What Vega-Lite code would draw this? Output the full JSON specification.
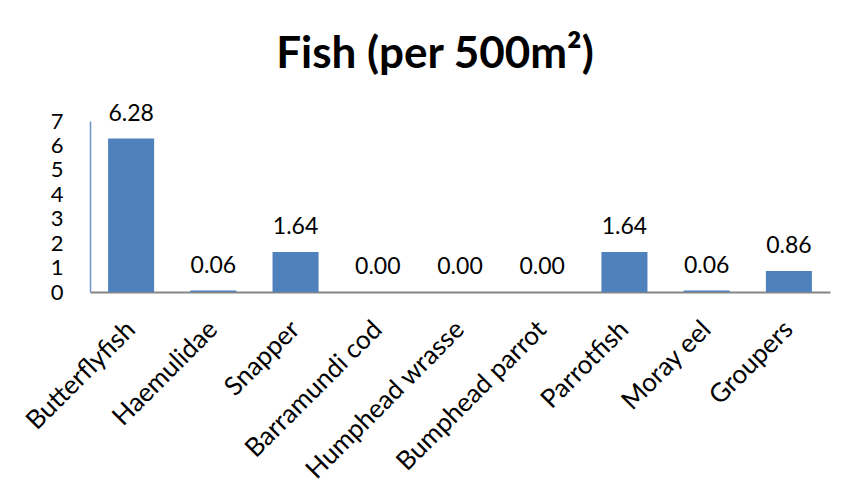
{
  "$schema": "https://vega.github.io/schema/vega-lite/v6.json",
  "width": 740,
  "height": 171,
  "autosize": "none",
  "padding": {"left": 90, "top": 121, "right": 21, "bottom": 195},
  "background": "white",
  "title": {
    "text": "Fish (per 500m²)",
    "font": "Lato",
    "fontSize": 44,
    "fontWeight": "bold",
    "color": "black",
    "anchor": "middle",
    "dx": -25,
    "offset": 26
  },
  "data": {
    "values": [
      {"fish": "Butterflyfish", "value": 6.28},
      {"fish": "Haemulidae", "value": 0.06},
      {"fish": "Snapper", "value": 1.64},
      {"fish": "Barramundi cod", "value": 0.0},
      {"fish": "Humphead wrasse", "value": 0.0},
      {"fish": "Bumphead parrot", "value": 0.0},
      {"fish": "Parrotfish", "value": 1.64},
      {"fish": "Moray eel", "value": 0.06},
      {"fish": "Groupers", "value": 0.86}
    ]
  },
  "encoding": {
    "x": {
      "field": "fish",
      "type": "nominal",
      "sort": null,
      "scale": {"paddingInner": 0.44, "paddingOuter": 0.22},
      "axis": {
        "title": null,
        "labelAngle": -45,
        "labelAlign": "right",
        "labelBaseline": "middle",
        "labelFont": "Lato",
        "labelFontSize": 26,
        "labelColor": "black",
        "labelPadding": 33,
        "labelLimit": 400,
        "ticks": false,
        "domainColor": "#868686",
        "domainWidth": 2,
        "labelOverlap": false
      }
    },
    "y": {
      "field": "value",
      "type": "quantitative",
      "scale": {"domain": [0, 7], "nice": false},
      "axis": {
        "title": null,
        "values": [0, 1, 2, 3, 4, 5, 6, 7],
        "grid": false,
        "ticks": false,
        "labelFont": "Lato",
        "labelFontSize": 22,
        "labelColor": "black",
        "labelPadding": 27,
        "labelOverlap": false,
        "labelFlush": false,
        "domainColor": "#6F93C8",
        "domainWidth": 1.5
      }
    }
  },
  "layer": [
    {"mark": {"type": "bar", "color": "#4F81BD"}},
    {
      "mark": {"type": "text", "font": "Lato", "fontSize": 23, "color": "black", "baseline": "bottom", "dy": -13},
      "encoding": {"text": {"field": "value", "type": "quantitative", "format": ".2f"}}
    }
  ],
  "config": {"view": {"stroke": null}}
}
